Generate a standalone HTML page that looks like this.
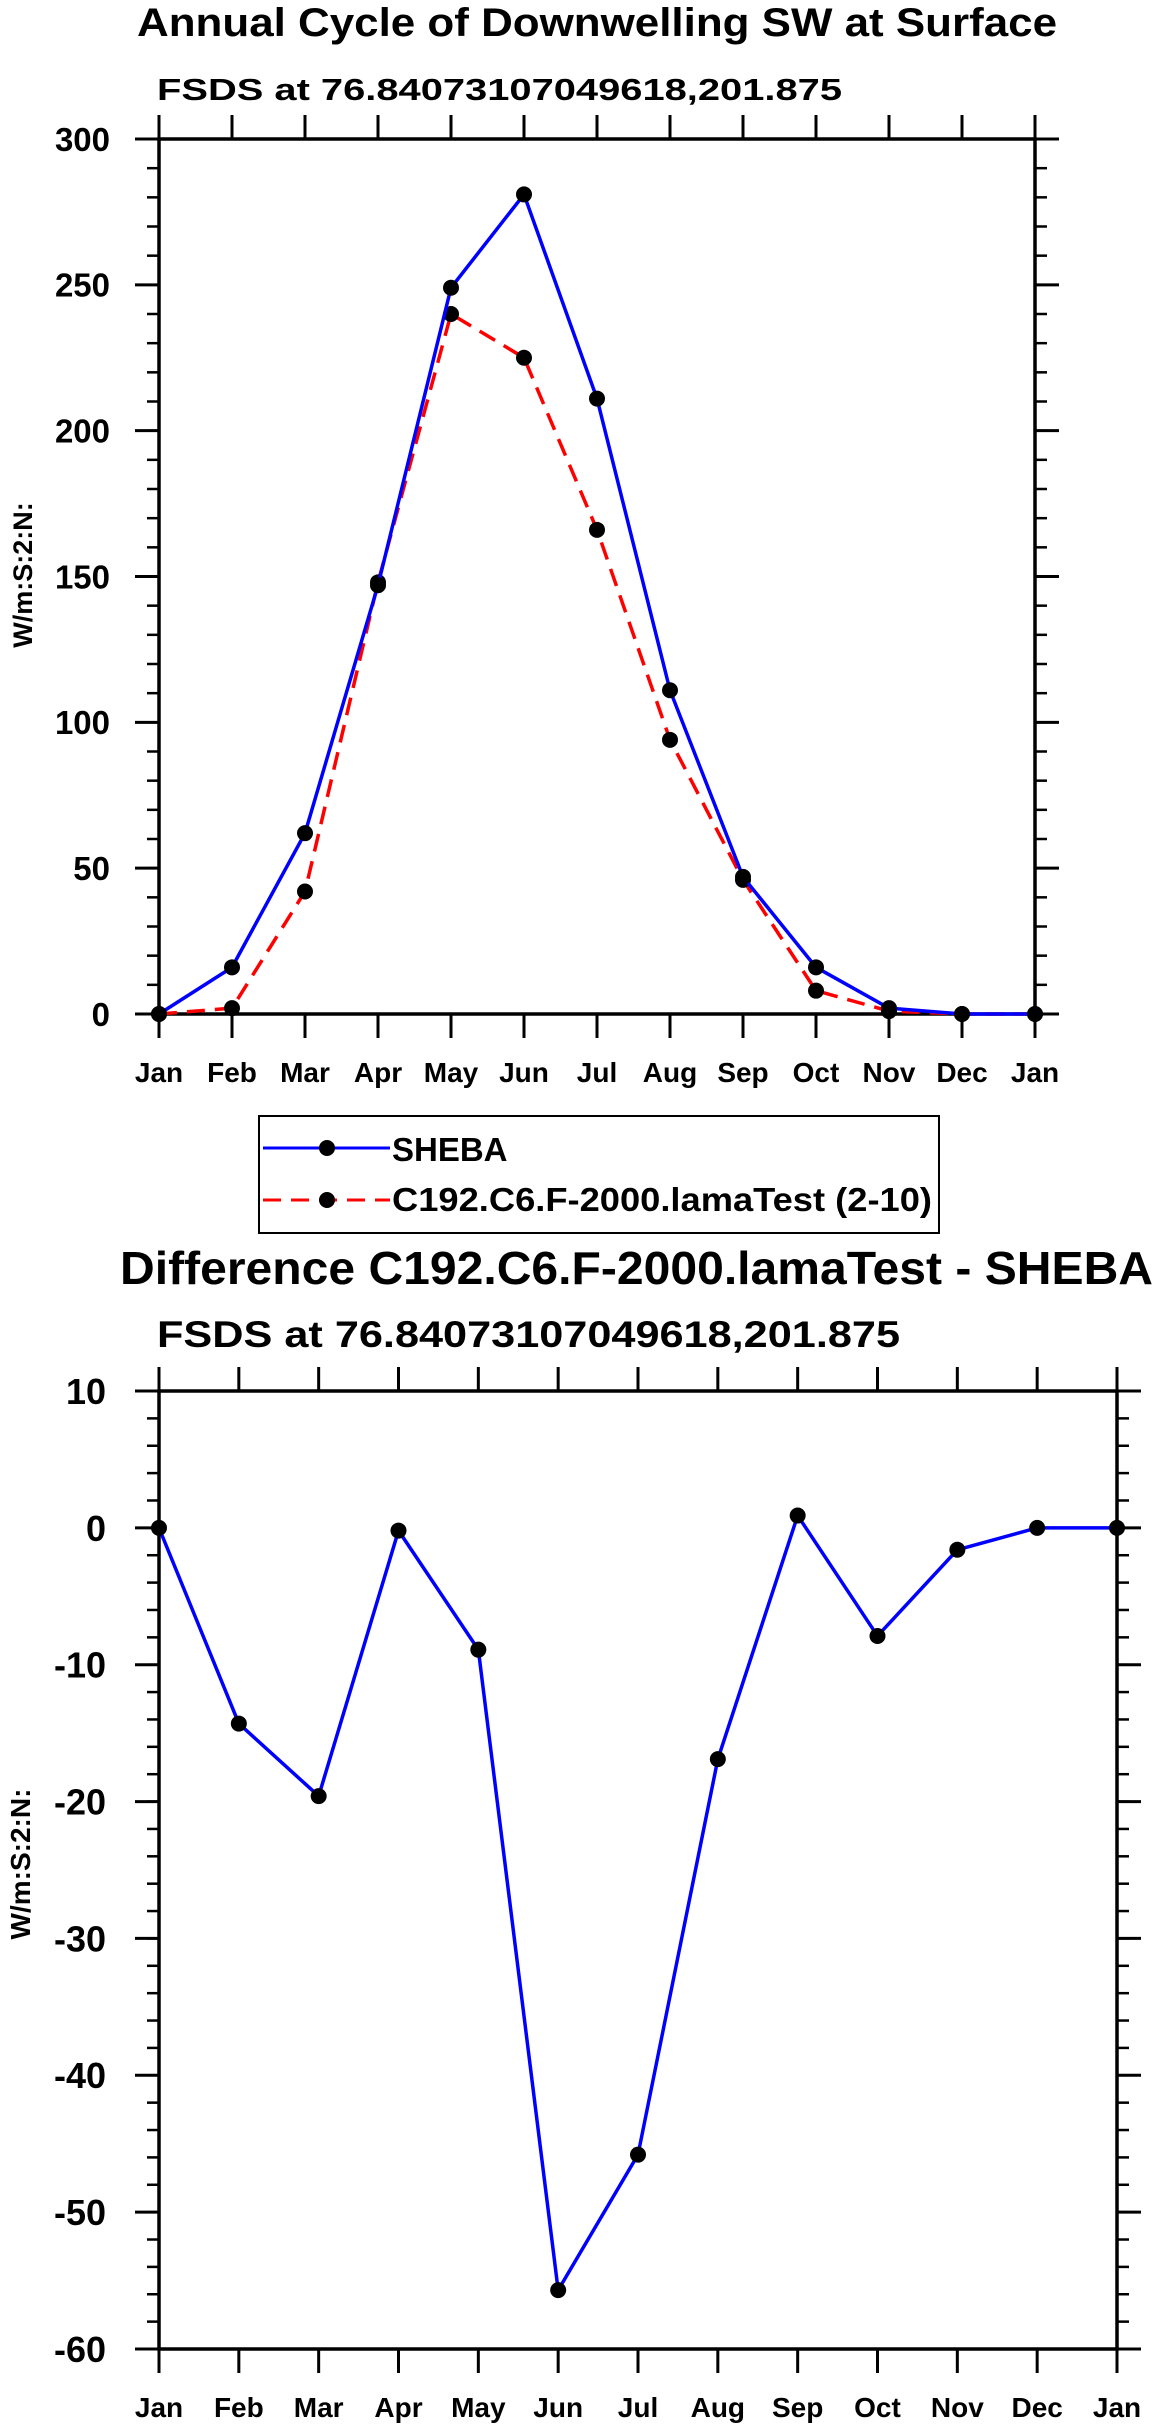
<!DOCTYPE html>
<html><head><meta charset="utf-8"><style>
html,body{margin:0;padding:0;background:#fff;}
svg{display:block;font-family:"Liberation Sans",sans-serif;font-weight:bold;}
</style></head><body>
<svg id="chart" width="1161" height="2434" viewBox="0 0 1161 2434" xmlns="http://www.w3.org/2000/svg">
<text x="137" y="36" font-size="40" textLength="920" lengthAdjust="spacingAndGlyphs">Annual Cycle of Downwelling SW at Surface</text>
<text x="157" y="100" font-size="31" textLength="685" lengthAdjust="spacingAndGlyphs">FSDS at 76.84073107049618,201.875</text>
<text transform="translate(32,575) rotate(-90)" font-size="27" text-anchor="middle">W/m:S:2:N:</text>
<text x="120" y="1284" font-size="46" textLength="1033" lengthAdjust="spacingAndGlyphs">Difference C192.C6.F-2000.lamaTest - SHEBA</text>
<text x="157" y="1347" font-size="37" textLength="743" lengthAdjust="spacingAndGlyphs">FSDS at 76.84073107049618,201.875</text>
<text transform="translate(30,1864) rotate(-90)" font-size="28" text-anchor="middle">W/m:S:2:N:</text>
<g id="top"></g>
<g id="bot"></g>
<g>
<rect x="259" y="1116" width="680" height="117" fill="none" stroke="#000" stroke-width="2"/>
<g>
<line x1="263" y1="1148" x2="390" y2="1148" stroke="#0000ff" stroke-width="3"/>
<circle cx="327" cy="1148" r="8" fill="#000"/>
<text x="392" y="1161" font-size="33">SHEBA</text></g>
<g>
<line x1="263" y1="1200" x2="390" y2="1200" stroke="#ff0000" stroke-width="3" stroke-dasharray="18,10"/>
<circle cx="327" cy="1200" r="8" fill="#000"/>
<text x="392" y="1211" font-size="33" textLength="540" lengthAdjust="spacingAndGlyphs">C192.C6.F-2000.lamaTest (2-10)</text></g>
</g>
</svg>
<script>
const months = ["Jan","Feb","Mar","Apr","May","Jun","Jul","Aug","Sep","Oct","Nov","Dec","Jan"];
const shebaValues = [0,16,62,147,249,281,211,111,47,16,2,0,0];
const modelValues = [0,2,42,148,240,225,166,94,46,8,1,0,0];
const diffValues = [0,-14.3,-19.6,-0.2,-8.9,-55.7,-45.8,-16.9,0.9,-7.9,-1.6,0,0];
const topTicks = [0,50,100,150,200,250,300];
const botTicks = [-60,-50,-40,-30,-20,-10,0,10];
const NS = "http://www.w3.org/2000/svg";
function mk(parent, tag, attrs){const e=document.createElementNS(NS,tag);for(const k in attrs)e.setAttribute(k,attrs[k]);parent.appendChild(e);return e;}
function plot(g, L, R, T, B, ymin, ymax, ticks, minorStep, series, yFont, labelRight){
  const x = i => L + (R-L)*i/(months.length-1);
  const y = v => B - (B-T)*(v-ymin)/(ymax-ymin);
  for(let v=ymin; v<=ymax+1e-9; v+=minorStep){
    const yy=y(v);
    let t=mk(g,"line",{x1:L-12,x2:L,y1:yy,y2:yy,stroke:"#000","stroke-width":2.5});
    
    
    t=mk(g,"line",{x1:R,x2:R+12,y1:yy,y2:yy,stroke:"#000","stroke-width":2.5});
    
    
  }
  ticks.forEach(v=>{
    const yy=y(v);
    let t=mk(g,"line",{x1:L-24,x2:L,y1:yy,y2:yy,stroke:"#000","stroke-width":3});
    
    
    t=mk(g,"line",{x1:R,x2:R+24,y1:yy,y2:yy,stroke:"#000","stroke-width":3});
    
    
    const lb=mk(g,"text",{x:labelRight,y:yy+yFont*0.36,"font-size":yFont,"text-anchor":"end"});
    lb.textContent=v;
    
    
  });
  months.forEach((m,i)=>{
    const xx=x(i);
    let t=mk(g,"line",{x1:xx,x2:xx,y1:B,y2:B+24,stroke:"#000","stroke-width":3});
    
    
    t=mk(g,"line",{x1:xx,x2:xx,y1:T-24,y2:T,stroke:"#000","stroke-width":3});
    
    
    const lb=mk(g,"text",{x:xx,y:B+68,"font-size":28,"text-anchor":"middle"});
    lb.textContent=m;
    
    
  });
  const fr=mk(g,"rect",{x:L,y:T,width:R-L,height:B-T,fill:"none",stroke:"#000","stroke-width":3.5});
  
  
  series.forEach(s=>{
    const pts=s.vals.map((v,i)=>x(i)+","+y(v)).join(" ");
    const pl=mk(g,"polyline",{points:pts,fill:"none",stroke:s.color,"stroke-width":3.5,"stroke-dasharray":s.dash||"none"});
    
    
    s.vals.forEach((v,i)=>{
      const c=mk(g,"circle",{cx:x(i),cy:y(v),r:8,fill:"#000"});
      
      
    });
  });
}
plot(document.getElementById("top"),159,1035,139,1014,0,300,topTicks,10,
 [{vals:modelValues,color:"#ff0000",dash:"18,10",name:"model"},{vals:shebaValues,color:"#0000ff",name:"sheba"}],33,110);
plot(document.getElementById("bot"),159,1117,1391,2349,-60,10,botTicks,2,
 [{vals:diffValues,color:"#0000ff",name:"difference"}],36,106);
</script>
</body></html>
